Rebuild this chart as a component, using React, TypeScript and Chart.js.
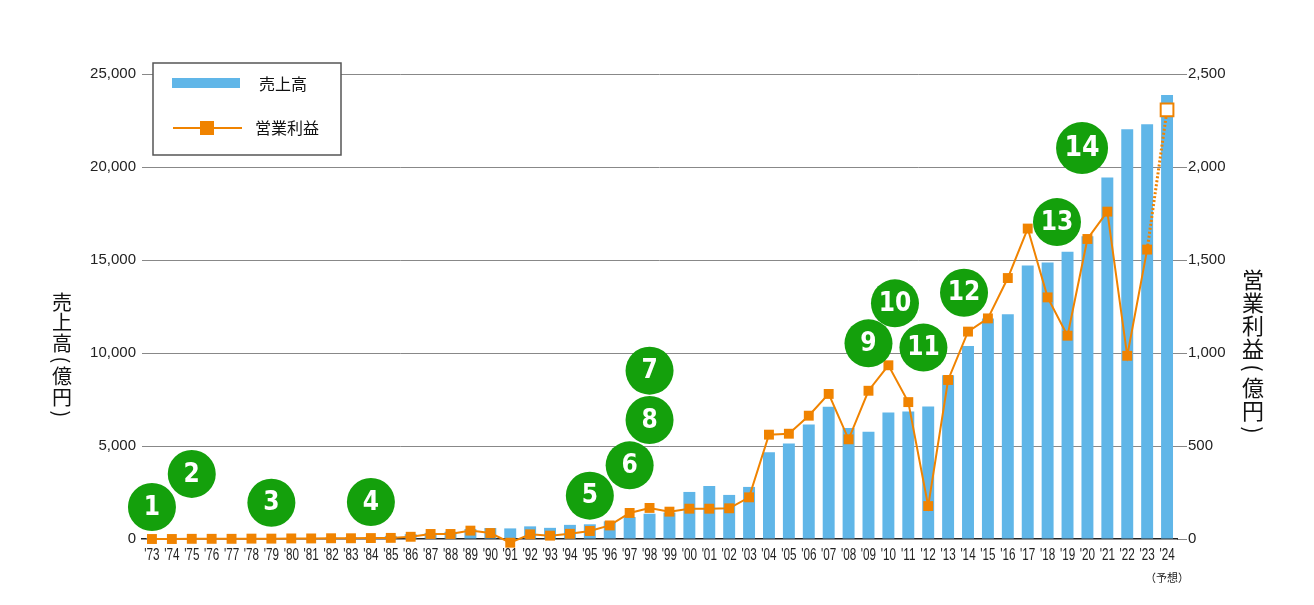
import React, { useEffect, useRef } from 'react';
import { Chart, registerables } from 'chart.js';

Chart.register(...registerables);

// fiscal years '73 - '24 ('24 = forecast)
const years = [
   "'73", "'74", "'75", "'76", "'77", "'78", "'79", "'80", "'81", "'82", "'83", "'84", "'85",
   "'86", "'87", "'88", "'89", "'90", "'91", "'92", "'93", "'94", "'95", "'96", "'97", "'98",
   "'99", "'00", "'01", "'02", "'03", "'04", "'05", "'06", "'07", "'08", "'09", "'10", "'11",
   "'12", "'13", "'14", "'15", "'16", "'17", "'18", "'19", "'20", "'21", "'22", "'23", "'24",
];

// 売上高 (億円)
const sales = [
   2, 4, 6, 9, 14, 20, 30, 40, 55, 70, 90, 110, 170,
   260, 330, 390, 540, 590, 570, 680, 600, 760, 790, 950, 1180, 1360,
   1420, 2530, 2850, 2370, 2800, 4660, 5140, 6160, 7110, 5970, 5770, 6800, 6860,
   7120, 8810, 10370, 11860, 12080, 14700, 14870, 15450, 16280, 19440, 22030, 22300, 23870,
];

// 営業利益 (億円)
const profit = [
   0, 0, 1, 1, 1, 2, 2, 3, 3, 4, 4, 5, 6,
   12, 27, 27, 45, 32, -20, 25, 18, 28, 43, 73, 140, 167,
   147, 163, 163, 165, 224, 561, 566, 663, 780, 536, 797, 934, 736,
   177, 855, 1115, 1186, 1403, 1669, 1299, 1093, 1613, 1760, 985, 1556, 2307,
];

// numbered milestones: label, category index, height on the sales axis
const badgeLabels = ['1', '2', '3', '4', '5', '6', '7', '8', '9', '10', '11', '12', '13', '14'];
const badgeIndex = [0, 2, 6, 11, 22, 24, 25, 25, 36, 37.33, 38.76, 40.8, 45.47, 46.73];
const badgeValue = [1720, 3500, 1950, 1990, 2330, 3960, 9050, 6400, 10520, 12670, 10290, 13240, 17040, 21020];

const salesTicks = { min: 0, max: 25000, step: 5000 };
const profitTicks = { min: 0, max: 2500, step: 500 };

const BLUE = '#60b6e8';
const ORANGE = '#f08300';
const GREEN = '#14a00c';
const CJK = "'Noto Sans CJK JP', sans-serif";
const SANS = "'Liberation Sans', Arial, sans-serif";
const NARROW = "'Liberation Sans Narrow', 'DejaVu Sans Condensed', sans-serif";

const drawVertical = (ctx: CanvasRenderingContext2D, text: string, cx: number, top: number, size: number, adv: number, parenAdv: number) => {
   ctx.save();
   ctx.font = `${size}px ${CJK}`;
   ctx.fillStyle = '#111';
   ctx.textAlign = 'center';
   ctx.textBaseline = 'middle';
   let y = top;
   for (const ch of text) {
      if (ch === '(' || ch === ')') {
         ctx.save();
         ctx.translate(cx, y + parenAdv / 2);
         ctx.rotate(Math.PI / 2);
         ctx.fillText(ch, 0, 0);
         ctx.restore();
         y += parenAdv;
      } else {
         ctx.fillText(ch, cx, y + adv / 2);
         y += adv;
      }
   }
   ctx.restore();
};

const decor = {
   id: 'decor',
   afterDatasetsDraw(chart: any) {
      const { ctx, scales } = chart;
      const x = scales.x;
      const y = scales.y;
      // milestone badges
      badgeLabels.forEach((label, i) => {
         const px = x.getPixelForValue(badgeIndex[i]);
         const py = y.getPixelForValue(badgeValue[i]);
         const r = label === '14' ? 26 : 24;
         ctx.save();
         ctx.fillStyle = GREEN;
         ctx.beginPath();
         ctx.arc(px, py, r, 0, Math.PI * 2);
         ctx.fill();
         ctx.fillStyle = '#fff';
         ctx.font = `bold ${label === '14' ? 28 : 26}px ${NARROW}`;
         ctx.textAlign = 'center';
         ctx.textBaseline = 'middle';
         ctx.fillText(label, px, py + 1);
         ctx.restore();
      });
   },
   afterDraw(chart: any) {
      const { ctx, chartArea, scales } = chart;
      // year labels, horizontally condensed
      ctx.save();
      ctx.font = `15px ${SANS}`;
      ctx.fillStyle = '#222';
      ctx.textAlign = 'center';
      ctx.textBaseline = 'middle';
      years.forEach((yr, i) => {
         ctx.save();
         ctx.translate(scales.x.getPixelForValue(i), chartArea.bottom + 17);
         ctx.scale(0.78, 1.05);
         ctx.fillText(yr, 0, 0);
         ctx.restore();
      });
      ctx.restore();
      // legend box
      const lx = chartArea.left + 11;
      const ly = chartArea.top - 11;
      ctx.save();
      ctx.fillStyle = '#fff';
      ctx.fillRect(lx, ly, 188, 92);
      ctx.strokeStyle = '#555';
      ctx.lineWidth = 1.5;
      ctx.strokeRect(lx, ly, 188, 92);
      ctx.fillStyle = BLUE;
      ctx.fillRect(lx + 19, ly + 15, 68, 10);
      ctx.strokeStyle = ORANGE;
      ctx.lineWidth = 2;
      ctx.beginPath();
      ctx.moveTo(lx + 20, ly + 65);
      ctx.lineTo(lx + 89, ly + 65);
      ctx.stroke();
      ctx.fillStyle = ORANGE;
      ctx.fillRect(lx + 47, ly + 58, 14, 14);
      ctx.fillStyle = '#111';
      ctx.font = `16px ${CJK}`;
      ctx.textBaseline = 'middle';
      ctx.fillText('売上高', lx + 106, ly + 21);
      ctx.fillText('営業利益', lx + 102, ly + 65);
      // forecast note under the last year
      ctx.font = `11px ${CJK}`;
      ctx.textAlign = 'center';
      ctx.fillStyle = '#222';
      ctx.fillText('（予想）', scales.x.getPixelForValue(years.length - 1), chartArea.bottom + 39);
      ctx.restore();
      // axis titles
      drawVertical(ctx, '売上高(億円)', 62, chartArea.top + 218, 20, 20.5, 13);
      drawVertical(ctx, '営業利益(億円)', chart.width - 61, chartArea.top + 194, 22, 23, 16);
   },
};

const App = () => {
   const canvasRef = useRef<HTMLCanvasElement | null>(null);

   useEffect(() => {
      document.body.style.margin = '0';
      if (!canvasRef.current) {
         return;
      }
      const last = profit.length - 1;
      const chart = new Chart(canvasRef.current, {
         type: 'bar',
         data: {
            labels: years,
            datasets: [
               {
                  type: 'line',
                  label: '営業利益',
                  data: profit,
                  yAxisID: 'y2',
                  borderColor: ORANGE,
                  borderWidth: 2,
                  tension: 0,
                  clip: false,
                  pointStyle: 'rect',
                  pointRadius: profit.map((_, i) => (i === last ? 9 : 7)),
                  pointBorderWidth: profit.map((_, i) => (i === last ? 2 : 0)),
                  pointBackgroundColor: profit.map((_, i) => (i === last ? '#fff' : ORANGE)),
                  pointBorderColor: ORANGE,
                  segment: {
                     borderDash: (c: any) => (c.p1DataIndex === last ? [2, 2] : undefined),
                     borderWidth: (c: any) => (c.p1DataIndex === last ? 3 : undefined),
                  },
               } as any,
               {
                  type: 'bar',
                  label: '売上高',
                  data: sales,
                  yAxisID: 'y',
                  backgroundColor: BLUE,
                  barPercentage: 0.6,
                  categoryPercentage: 1,
               },
            ],
         },
         options: {
            responsive: false,
            animation: false,
            layout: { padding: { top: 74, left: 0, right: 0, bottom: 0 } },
            plugins: {
               legend: { display: false },
               tooltip: { enabled: false },
            },
            scales: {
               x: {
                  offset: true,
                  grid: { display: false, drawTicks: false },
                  border: { display: true, color: '#222', width: 1.5 },
                  ticks: { display: false },
                  afterFit: (s: any) => {
                     s.height = 66;
                  },
               },
               y: {
                  position: 'left',
                  min: salesTicks.min,
                  max: salesTicks.max,
                  ticks: {
                     stepSize: salesTicks.step,
                     padding: 6,
                     color: '#222',
                     font: { family: SANS, size: 15 },
                     callback: (v: any) => Number(v).toLocaleString('en-US'),
                  },
                  grid: {
                     drawTicks: false,
                     color: (c: any) => (c.tick && c.tick.value === 0 ? 'rgba(0,0,0,0)' : '#888'),
                  },
                  border: { display: false },
                  afterFit: (s: any) => {
                     s.width = 142;
                  },
               },
               y2: {
                  position: 'right',
                  min: profitTicks.min,
                  max: profitTicks.max,
                  ticks: {
                     stepSize: profitTicks.step,
                     padding: 1,
                     color: '#222',
                     font: { family: SANS, size: 15 },
                     callback: (v: any) => Number(v).toLocaleString('en-US'),
                  },
                  grid: { drawOnChartArea: false, drawTicks: true, tickLength: 10, color: '#888' },
                  border: { display: false },
                  afterFit: (s: any) => {
                     s.width = 137;
                  },
               },
            },
         },
         plugins: [decor],
      });

      return () => {
         chart.destroy();
      };
   }, []);

   return <canvas ref={canvasRef} width='1314' height='605' style={{ display: 'block' }} />;
};

export default App;
